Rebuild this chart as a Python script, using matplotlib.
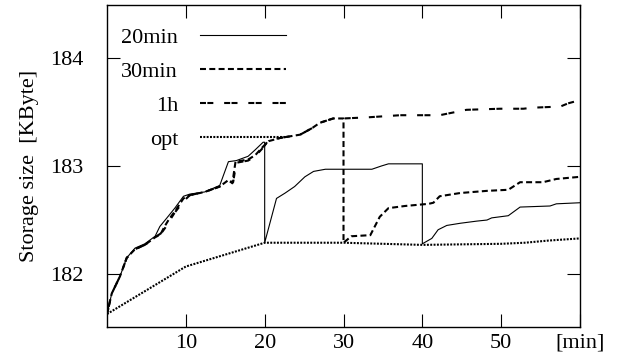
import matplotlib
matplotlib.use('Agg')
import matplotlib.pyplot as plt

plt.rcParams['font.family'] = ['Liberation Serif', 'DejaVu Serif']
plt.rcParams['lines.scale_dashes'] = False

""" ****** data read off the reference (time in min, size in KByte) ****** """

# 20min strategy: reset to optimum every 20 minutes
t_20 = [0, 0.6, 1.65, 2.5, 3.55, 4.8, 6.1, 6.7, 7.6, 8.6, 9.7, 10.5, 12.4, 14.3, 15.4,
        16.4, 17.9, 18.8, 19.8, 20, 20, 21.5, 22.6, 23.8, 25.1, 26.2, 27.7, 33.6, 34.8,
        35.7, 39.9, 40, 40, 41.2, 42.0, 43.1, 44.8, 46.9, 48.2, 48.8, 50.9, 52.4, 56.2,
        57.0, 60]
s_20 = [181.63, 181.82, 181.98, 182.15, 182.24, 182.28, 182.35, 182.44, 182.52, 182.61,
        182.72, 182.74, 182.76, 182.82, 183.04, 183.05, 183.09, 183.15, 183.22, 183.22,
        182.29, 182.70, 182.75, 182.81, 182.90, 182.95, 182.97, 182.97, 183.00, 183.02,
        183.02, 183.02, 182.28, 182.33, 182.41, 182.45, 182.47, 182.49, 182.50, 182.52,
        182.54, 182.62, 182.63, 182.65, 182.66]

# 30min strategy
t_30 = [0, 0.6, 1.65, 2.5, 3.55, 4.8, 6.1, 6.8, 7.3, 7.8, 8.6, 9.7, 10.5, 12.4, 14.3,
        15.4, 15.9, 16.3, 17.9, 18.8, 19.8, 20.5, 22.0, 24.5, 26.0, 27.0, 28.7, 30, 30,
        31.0, 33.4, 34.6, 35.7, 37.8, 40.8, 41.4, 42.2, 44.8, 48.2, 50.9, 52.4, 55.3,
        57.0, 60]
s_30 = [181.63, 181.82, 181.98, 182.15, 182.23, 182.27, 182.34, 182.37, 182.44, 182.50,
        182.58, 182.70, 182.73, 182.76, 182.81, 182.87, 182.84, 183.04, 183.06, 183.10,
        183.18, 183.23, 183.26, 183.29, 183.35, 183.40, 183.44, 183.44, 182.29, 182.35,
        182.36, 182.53, 182.61, 182.63, 182.65, 182.66, 182.72, 182.75, 182.77, 182.78,
        182.85, 182.85, 182.88, 182.90]

# 1h strategy (no reset inside the shown hour)
t_1h = [0, 0.6, 1.65, 2.5, 3.55, 4.8, 6.1, 6.9, 7.4, 7.9, 8.6, 9.8, 10.5, 12.4, 14.3,
        15.4, 16.0, 16.4, 17.9, 18.8, 19.8, 20.5, 22.0, 24.5, 26.0, 27.0, 28.7, 30.0,
        33.0, 37.2, 42.2, 45.6, 49.9, 52.8, 54.1, 57.5, 58.5, 60]
s_1h = [181.63, 181.82, 181.98, 182.15, 182.23, 182.27, 182.34, 182.38, 182.43, 182.49,
        182.57, 182.68, 182.73, 182.76, 182.81, 182.86, 182.85, 183.03, 183.05, 183.09,
        183.17, 183.24, 183.26, 183.29, 183.35, 183.40, 183.44, 183.44, 183.45, 183.47,
        183.47, 183.52, 183.53, 183.53, 183.54, 183.55, 183.58, 183.61]

# optimum
t_opt = [0, 10, 20, 30, 40, 50, 53, 56, 60]
s_opt = [181.63, 182.07, 182.29, 182.29, 182.27, 182.28, 182.29, 182.31, 182.33]

x_ticks = [10, 20, 30, 40, 50, 60]
x_ticklabels = ['10', '20', '30', '40', '50', '[min]']
y_ticks = [182, 183, 184]

""" ******* Plot ******** """

fs = 16

fig = plt.figure(figsize=(6.24, 3.64), dpi=100)
ax = fig.add_axes([0.1715, 0.1016, 0.758, 0.8847])

ax.plot(t_20, s_20, color='black', lw=0.8, label='20min')
ax.plot(t_30, s_30, color='black', lw=1.5, dashes=(4.3, 2.4), label='30min')
ax.plot(t_1h, s_1h, color='black', lw=1.5, dashes=(4.3, 1.0, 4.3, 7.8), label='1h')
ax.plot(t_opt, s_opt, color='black', lw=1.5, dashes=(1.4, 1.0), label='opt')

ax.set_xlim(0, 60)
ax.set_ylim(181.51, 184.49)
ax.set_xticks(x_ticks)
ax.set_xticklabels(x_ticklabels)
ax.set_yticks(y_ticks)
ax.tick_params(direction='in', length=9.5, width=0.8, top=True, right=True,
               labelsize=fs)
ax.tick_params(axis='x', pad=5)
ax.tick_params(axis='y', pad=17)
for sp in ax.spines.values():
    sp.set_linewidth(1.0)

ax.set_ylabel('Storage size  [KByte]', fontsize=fs, labelpad=8)

ax.legend(loc='upper left', bbox_to_anchor=(0.03, 0.93), frameon=False,
          markerfirst=False, fontsize=fs, handlelength=3.85, handletextpad=1.0,
          labelspacing=0.6, borderpad=0, borderaxespad=0)

plt.savefig('out.png', dpi=100)
